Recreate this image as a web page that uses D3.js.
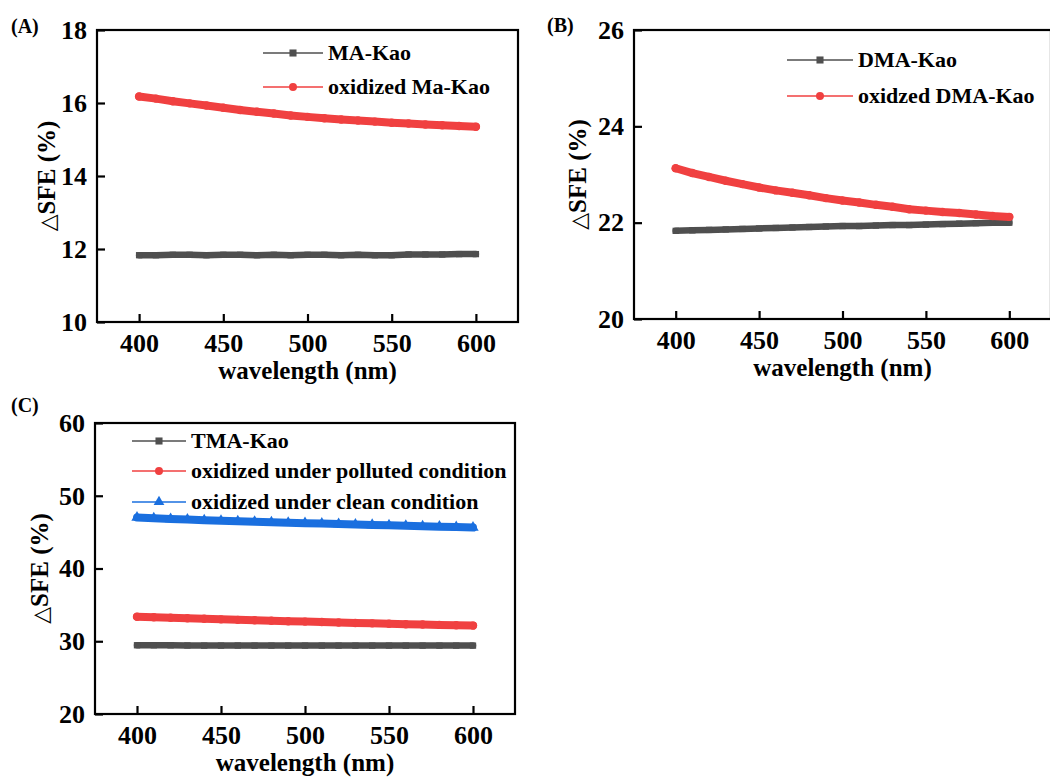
<!DOCTYPE html>
<html><head><meta charset="utf-8">
<script src="https://cdn.jsdelivr.net/npm/d3@7"></script>
<style>body{margin:0;background:#fff}svg{display:block}</style>
</head><body>
<script>
const wavelengths = [400,410,420,430,440,450,460,470,480,490,500,510,520,530,540,550,560,570,580,590,600];
const xTicks = [400,450,500,550,600];

// Panel A
const maKao = [11.83,11.83,11.84,11.84,11.83,11.84,11.84,11.83,11.84,11.83,11.84,11.84,11.83,11.84,11.83,11.83,11.85,11.85,11.85,11.86,11.86];
const oxMaKao = [16.18,16.12,16.05,15.99,15.93,15.87,15.81,15.76,15.71,15.66,15.62,15.58,15.55,15.52,15.49,15.46,15.44,15.41,15.39,15.37,15.35];
const aTicks = [10,12,14,16,18];
// Panel B
const dmaKao = [21.83,21.84,21.85,21.86,21.87,21.88,21.89,21.90,21.91,21.92,21.93,21.93,21.94,21.95,21.95,21.96,21.97,21.98,21.99,22.00,22.00];
const oxDmaKao = [23.13,23.03,22.95,22.87,22.80,22.73,22.67,22.62,22.57,22.51,22.46,22.42,22.37,22.33,22.28,22.25,22.22,22.20,22.17,22.14,22.12];
const bTicks = [20,22,24,26];
// Panel C
const tmaKao = [29.45,29.45,29.44,29.42,29.4,29.4,29.41,29.4,29.4,29.4,29.4,29.4,29.4,29.4,29.4,29.4,29.4,29.4,29.4,29.4,29.4];
const polluted = [33.38,33.30,33.22,33.15,33.08,33.01,32.94,32.88,32.82,32.76,32.70,32.64,32.58,32.52,32.46,32.40,32.35,32.30,32.25,32.20,32.15];
const clean = [47.0,46.9,46.8,46.72,46.64,46.56,46.49,46.42,46.35,46.29,46.23,46.17,46.11,46.05,45.99,45.93,45.87,45.81,45.75,45.69,45.63];
const cTicks = [20,30,40,50,60];

const GREY = "#4f4f4f", RED = "#f04040", BLUE = "#1a6fdf";
const FONT = "Liberation Serif";

const svg = d3.select("body").append("svg").attr("width",1050).attr("height",780);

function txt(g){ return g.append("text").attr("font-family",FONT).attr("font-weight","bold").attr("fill","#000"); }

function panel(o){
  const x = d3.scaleLinear().domain([375,625]).range([o.left,o.right]);
  const y = d3.scaleLinear().domain(o.yDomain).range([o.bottom,o.top]);
  const g = svg.append("g");
  g.append("rect").attr("x",o.left).attr("y",o.top).attr("width",o.right-o.left).attr("height",o.bottom-o.top)
    .attr("fill","none").attr("stroke","#000").attr("stroke-width",2.2);
  const xa = g.append("g").attr("transform",`translate(0,${o.bottom})`)
    .call(d3.axisBottom(x).tickValues(xTicks).tickSize(-8).tickPadding(20).tickFormat(d3.format("d")));
  const ya = g.append("g").attr("transform",`translate(${o.left},0)`)
    .call(d3.axisLeft(y).tickValues(o.yTicks).tickSize(-8).tickPadding(18).tickFormat(d3.format("d")));
  [xa,ya].forEach(a=>{
    a.attr("font-family",FONT);
    a.select(".domain").remove();
    a.selectAll(".tick line").attr("stroke","#000").attr("stroke-width",2.2);
    a.selectAll(".tick text").attr("font-size",26).attr("font-family",FONT).attr("font-weight","bold").attr("fill","#000");
  });
  xa.selectAll(".tick text").attr("dy","0.35em").attr("y",21);
  ya.selectAll(".tick text").attr("x",-10);
  txt(g).attr("x",(o.left+o.right)/2).attr("y",o.bottom+57).attr("text-anchor","middle").attr("font-size",25)
    .text("wavelength (nm)");
  const yt = txt(g).attr("transform",`translate(${o.left-o.yTitleOff},${(o.top+o.bottom)/2}) rotate(-90)`)
    .attr("text-anchor","middle").attr("dy","0.35em").attr("font-size",25);
  yt.append("tspan").attr("font-weight","normal").attr("font-family","DejaVu Sans").attr("font-size",22).text("\u25B3");
  yt.append("tspan").text("SFE (%)");
  txt(g).attr("x",o.labelX).attr("y",o.labelY).attr("font-size",20).attr("dy","0.35em").text(o.label);
  const line = d3.line().x((d,i)=>x(wavelengths[i])).y(d=>y(d));
  o.series.forEach(s=>{
    g.append("path").datum(s.values).attr("d",line).attr("fill","none").attr("stroke",s.color)
      .attr("stroke-width",s.width).attr("stroke-linecap","round").attr("stroke-linejoin","round");
    const sym = d3.symbol().type(s.shape).size(s.msize);
    g.selectAll(null).data(s.values).enter().append("path")
      .attr("d",sym).attr("transform",(d,i)=>`translate(${x(wavelengths[i])},${y(d)})`).attr("fill",s.color);
  });
  o.series.forEach((s,i)=>{
    const ly = o.legY[i];
    g.append("line").attr("x1",o.legX1).attr("x2",o.legX2).attr("y1",ly).attr("y2",ly).attr("stroke",s.color).attr("stroke-width",1.5);
    g.append("path").attr("d",d3.symbol().type(s.shape).size(50)).attr("transform",`translate(${(o.legX1+o.legX2)/2},${ly})`).attr("fill",s.color);
    txt(g).attr("x",o.legX2+5).attr("y",ly).attr("dy","0.33em").attr("font-size",22).text(s.name);
  });
}

panel({left:97,right:518,top:30,bottom:322,yDomain:[10,18],yTicks:aTicks,yTitleOff:51,label:"(A)",labelX:11,labelY:26,
  legX1:263,legX2:323,legY:[53,87],
  series:[
    {name:"MA-Kao",values:maKao,color:GREY,shape:d3.symbolSquare,width:6.5,msize:40},
    {name:"oxidized Ma-Kao",values:oxMaKao,color:RED,shape:d3.symbolCircle,width:8,msize:56}
  ]});
panel({left:634,right:1051,top:30,bottom:319,yDomain:[20,26],yTicks:bTicks,yTitleOff:57,label:"(B)",labelX:547,labelY:25,
  legX1:787,legX2:853,legY:[60,96],
  series:[
    {name:"DMA-Kao",values:dmaKao,color:GREY,shape:d3.symbolSquare,width:6.5,msize:40},
    {name:"oxidzed DMA-Kao",values:oxDmaKao,color:RED,shape:d3.symbolCircle,width:8,msize:56}
  ]});
panel({left:95,right:515,top:423,bottom:714,yDomain:[20,60],yTicks:cTicks,yTitleOff:56,label:"(C)",labelX:11,labelY:405,
  legX1:132,legX2:186,legY:[441,471,502],
  series:[
    {name:"TMA-Kao",values:tmaKao,color:GREY,shape:d3.symbolSquare,width:6.5,msize:40},
    {name:"oxidized under polluted condition",values:polluted,color:RED,shape:d3.symbolCircle,width:8,msize:56},
    {name:"oxidized under clean condition",values:clean,color:BLUE,shape:d3.symbolTriangle,width:8,msize:56}
  ]});
</script>
</body></html>
